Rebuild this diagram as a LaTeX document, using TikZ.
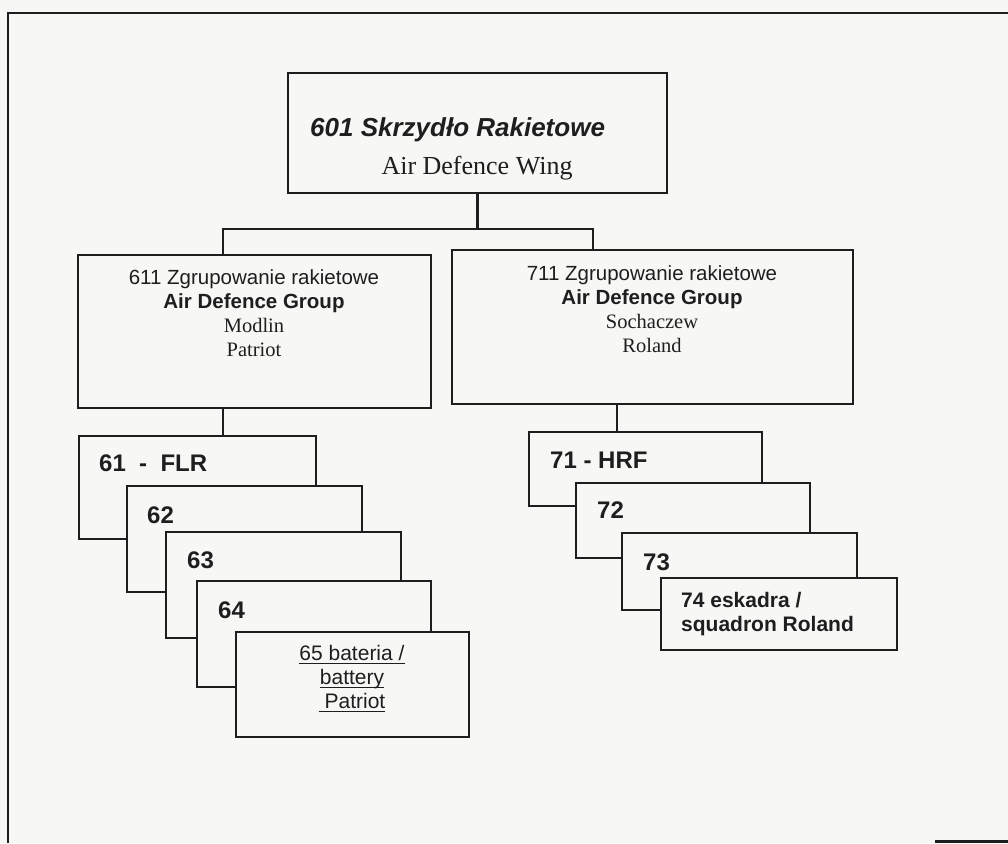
\documentclass[tikz,border=0pt]{standalone}
\usepackage{fontspec}
\setmainfont{Liberation Serif}
\setsansfont{Liberation Sans}
\usetikzlibrary{fit}
\definecolor{paper}{RGB}{247,247,245}
\definecolor{ink}{RGB}{30,30,30}
\newcommand\ul[1]{\setbox0\hbox{#1}\rlap{\rule[-3.5pt]{\wd0}{1.3pt}}\box0}
\tikzset{
  unit/.style={draw=ink, line width=2.2pt, fill=paper, inner sep=0pt},
  link/.style={draw=ink, line width=2.2pt},
  wing/.style={font=\sffamily\bfseries\itshape\fontsize{26}{30}\selectfont, inner sep=0pt, text=ink},
  eng/.style={font=\rmfamily\fontsize{26}{30}\selectfont, inner sep=0pt, text=ink},
  grp/.style={align=center, font=\sffamily\fontsize{20.5}{24}\selectfont, inner sep=0pt, text=ink},
  num/.style={anchor=west, font=\sffamily\bfseries\fontsize{24}{28}\selectfont, inner sep=0pt, text=ink},
  bat/.style={align=center, font=\sffamily\fontsize{21}{24}\selectfont, inner sep=0pt, text=ink},
  sqd/.style={anchor=west, align=left, font=\sffamily\bfseries\fontsize{21}{24}\selectfont, inner sep=0pt, text=ink}
}

\begin{document}
\begin{tikzpicture}[x=1pt, y=-1pt]
	%%%%% START %%%%%
	
	\fill[paper] (0,0) rectangle (1008,843);
	\useasboundingbox (0,0) rectangle (1008,843);
	\draw[ink, line width=2.6pt] (8,843) -- (8,13) -- (1008,13);
	\draw[ink, line width=3pt] (935,841) -- (1008,841);
	
	% wing
	\node[unit, fit={(288,73) (667,193)}] (b601) {};
	\node[wing, anchor=west] (t601) at (310,130) {601 Skrzydło Rakietowe};
	\node[eng] (e601) at (477,168) {Air Defence Wing};
	
	% groups
	\coordinate (busL) at (223,229);
	\coordinate (busR) at (593,229);
	\node[unit, fit={(78,255) (431,408)}] (b611) {};
	\node[unit, fit={(452,250) (853,404)}] (b711) {};
	\draw[link] (b601.south) -- (b601.south |- busL);
	\draw[link] (b611.north -| busL) -- (busL) -- (busR) -- (b711.north -| busR);
	\node[grp] (t611) at (254,313) {611 Zgrupowanie rakietowe\\\textbf{Air Defence Group}\\\textrm{Modlin}\\\textrm{Patriot}};
	\node[grp] (t711) at (652,309) {711 Zgrupowanie rakietowe\\\textbf{Air Defence Group}\\\textrm{Sochaczew}\\\textrm{Roland}};
	
	% batteries
	\coordinate (k61) at (223,420);
	\node[unit, fit={(79,436) (316,539)}] (b61) {};
	\draw[link] (b611.south -| k61) -- (b61.north -| k61);
	\node[num] (t61) at (99,463) {61~~-~~FLR};
	\node[unit, fit={(127,486) (362,592)}] (b62) {};
	\node[num] (t62) at (147,515) {62};
	\node[unit, fit={(166,532) (401,638)}] (b63) {};
	\node[num] (t63) at (187,560) {63};
	\node[unit, fit={(197,581) (431,687)}] (b64) {};
	\node[num] (t64) at (218,610) {64};
	\node[unit, fit={(236,632) (469,737)}] (b65) {};
	\node[bat] (t65) at (352,679) {\ul{65 bateria /}\\\ul{battery}\\\ul{\ Patriot}};
	
	% squadrons
	\coordinate (k71) at (617,418);
	\node[unit, fit={(529,432) (762,506)}] (b71) {};
	\draw[link] (b711.south -| k71) -- (b71.north -| k71);
	\node[num] (t71) at (550,460) {71 - HRF};
	\node[unit, fit={(576,483) (810,558)}] (b72) {};
	\node[num] (t72) at (597,510) {72};
	\node[unit, fit={(622,533) (857,610)}] (b73) {};
	\node[num] (t73) at (643,562) {73};
	\node[unit, fit={(661,578) (897,650)}] (b74) {};
	\node[sqd] (t74) at (681,614) {74 eskadra /\\squadron Roland};
	
	%%%%% END %%%%%
\end{tikzpicture}
\end{document}
